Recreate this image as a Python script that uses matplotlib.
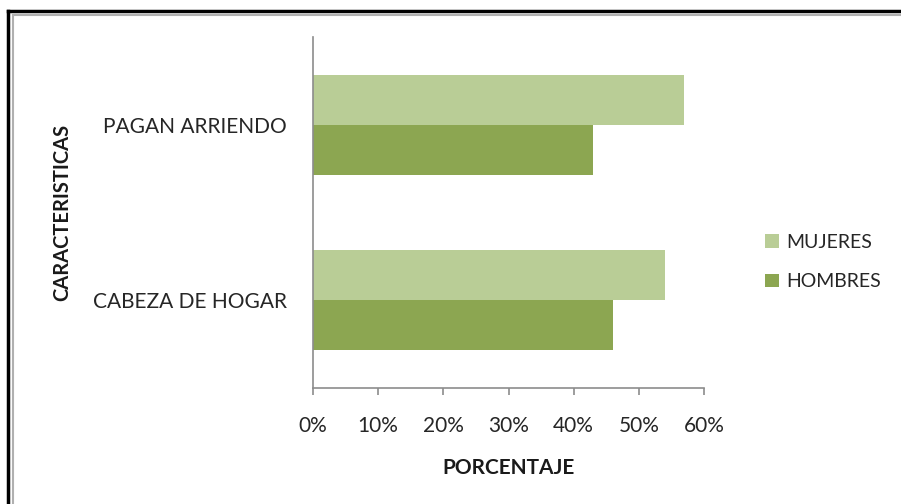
import numpy as np
import matplotlib
matplotlib.use("Agg")
import matplotlib.pyplot as plt
from matplotlib.lines import Line2D
from matplotlib.ticker import PercentFormatter

plt.rcParams['font.family'] = ['Lato', 'DejaVu Sans']

# datos
categorias = ["CABEZA DE HOGAR", "PAGAN ARRIENDO"]
mujeres = [54, 57]
hombres = [46, 43]
series = ["MUJERES", "HOMBRES"]
ticks_x = [0, 10, 20, 30, 40, 50, 60]

col_muj = "#B9CD96"
col_hom = "#8CA651"
gris = "#8C8C8C"

fig = plt.figure(figsize=(9.01, 5.04), dpi=100)
ax = fig.add_axes([0.3474, 0.2302, 0.4340, 0.6964])

y = np.arange(len(categorias))
h = 0.286
ax.barh(y + h / 2, mujeres, height=h, color=col_muj, label=series[0])
ax.barh(y - h / 2, hombres, height=h, color=col_hom, label=series[1])

ax.set_xlim(0, 60)
ax.set_ylim(-0.5, 1.5)
ax.set_xticks(ticks_x)
ax.xaxis.set_major_formatter(PercentFormatter(decimals=0))
ax.set_yticks(y)
ax.set_yticklabels(categorias)

for s in ["top", "right"]:
    ax.spines[s].set_visible(False)
for s in ["left", "bottom"]:
    ax.spines[s].set_color(gris)
    ax.spines[s].set_linewidth(1.2)
ax.tick_params(axis="x", direction="out", length=5, color=gris, width=1.2,
               labelsize=15, labelcolor="#262626", pad=15)
ax.tick_params(axis="y", length=0, labelsize=15, labelcolor="#262626", pad=19)

ax.set_xlabel("PORCENTAJE", fontsize=15, fontweight="bold", labelpad=16, color="#1a1a1a")
ax.set_ylabel("CARACTERISTICAS", fontsize=14.5, fontweight="bold", color="#1a1a1a")
ax.yaxis.set_label_coords(-0.616, 0.5)

leg = fig.legend(loc="center left", bbox_to_anchor=(0.83, 0.48), frameon=False,
                 fontsize=14, handlelength=0.7, handleheight=0.7,
                 handletextpad=0.4, labelspacing=1.15, labelcolor="#262626")

# marco
fig.add_artist(Line2D([8 / 901, 1], [1 - 11 / 504, 1 - 11 / 504], color="black", lw=2.5))
fig.add_artist(Line2D([8 / 901, 8 / 901], [0, 1 - 11 / 504], color="black", lw=2.5))
fig.add_artist(Line2D([13 / 901, 1], [1 - 14.5 / 504, 1 - 14.5 / 504], color="#b0b0b0", lw=1.5))
fig.add_artist(Line2D([13 / 901, 13 / 901], [0, 1 - 14.5 / 504], color="#b0b0b0", lw=1.5))

fig.savefig("out.png", dpi=100)
